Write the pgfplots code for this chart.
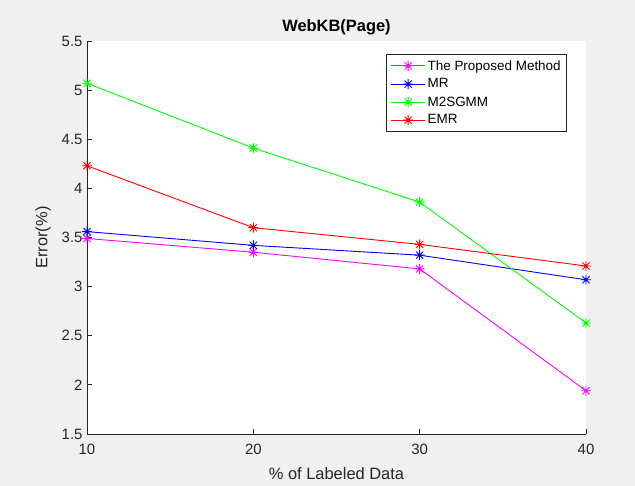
\documentclass[border=0pt]{standalone}
\usepackage{pgfplots}
\pgfplotsset{compat=1.18}
\usepackage{fontspec}
\setmainfont{Liberation Sans}
\definecolor{figbg}{HTML}{F0F0F0}
\definecolor{axgray}{HTML}{262626}
\definecolor{mmag}{rgb}{1,0,1}
\definecolor{mblue}{rgb}{0,0,1}
\definecolor{mgreen}{rgb}{0,1,0}
\definecolor{mred}{rgb}{1,0,0}
\pgfdeclareplotmark{mast}{%
  \pgfpathmoveto{\pgfqpoint{0pt}{\pgfplotmarksize}}%
  \pgfpathlineto{\pgfqpoint{0pt}{-\pgfplotmarksize}}%
  \pgfpathmoveto{\pgfqpoint{\pgfplotmarksize}{0pt}}%
  \pgfpathlineto{\pgfqpoint{-\pgfplotmarksize}{0pt}}%
  \pgfpathmoveto{\pgfqpoint{.72\pgfplotmarksize}{.72\pgfplotmarksize}}%
  \pgfpathlineto{\pgfqpoint{-.72\pgfplotmarksize}{-.72\pgfplotmarksize}}%
  \pgfpathmoveto{\pgfqpoint{-.72\pgfplotmarksize}{.72\pgfplotmarksize}}%
  \pgfpathlineto{\pgfqpoint{.72\pgfplotmarksize}{-.72\pgfplotmarksize}}%
  \pgfusepathqstroke}
\begin{document}
\begin{tikzpicture}
\fill[figbg] (-87bp,-52bp) rectangle (548bp,434bp);
\useasboundingbox (-87bp,-52bp) rectangle (548bp,434bp);
\begin{axis}[
  at={(0,0)}, anchor=south west,
  scale only axis, width=499bp, height=393bp,
  xmin=10, xmax=40, ymin=1.5, ymax=5.5,
  xtick={10,20,30,40},
  ytick={1.5,2,2.5,3,3.5,4,4.5,5,5.5},
  yticklabels={1.5,2,2.5,3,3.5,4,4.5,5,5.5},
  axis x line*=bottom, axis y line*=left,
  axis line style={-, draw=axgray, line width=0.8bp},
  every outer x axis line/.append style={-},
  every outer y axis line/.append style={-},
  axis background/.style={fill=white},
  tick align=inside,
  major tick length=5bp,
  tick style={draw=axgray, line width=0.8bp},
  /pgf/number format/assume math mode=true,
  ticklabel style={font=\fontsize{15}{17}\selectfont, text=axgray},
  xticklabel style={yshift=-7bp},
  yticklabel style={xshift=-1bp},
  xlabel={\% of Labeled Data},
  ylabel={Error(\%)},
  label style={font=\fontsize{16.5}{18}\selectfont, text=axgray},
  xlabel style={yshift=-6bp},
  ylabel style={yshift=4bp},
  title={\textbf{WebKB(Page)}},
  title style={font=\fontsize{16.5}{18}\selectfont, text=black, yshift=-3bp},
  legend cell align=left,
  legend style={at={(1,1)}, anchor=north east, xshift=-19bp, yshift=-13bp,
    draw=axgray, fill=white, line width=0.6bp,
    font=\fontsize{13.5}{15}\selectfont,
    row sep=3.2bp, inner sep=4bp},
  legend image code/.code={\draw[mark repeat=2,mark phase=2] plot coordinates {(0bp,0bp) (17bp,0bp) (34bp,0bp)};},
  every axis plot/.append style={line width=0.9bp, mark=mast, mark size=5bp, mark options={line width=0.9bp}},
]
\addplot[color=mmag] coordinates {(10,3.49) (20,3.35) (30,3.18) (40,1.94)};
\addlegendentry{The Proposed Method}
\addplot[color=mblue] coordinates {(10,3.56) (20,3.42) (30,3.32) (40,3.07)};
\addlegendentry{MR}
\addplot[color=mgreen] coordinates {(10,5.07) (20,4.41) (30,3.86) (40,2.63)};
\addlegendentry{M2SGMM}
\addplot[color=mred] coordinates {(10,4.23) (20,3.60) (30,3.43) (40,3.21)};
\addlegendentry{EMR}
\end{axis}
\end{tikzpicture}
\end{document}
